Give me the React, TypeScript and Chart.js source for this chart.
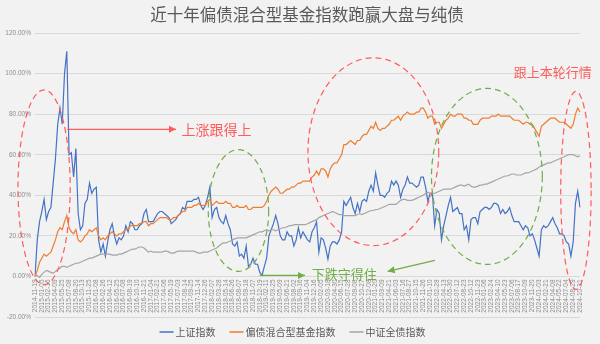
import React, { useEffect, useRef } from 'react';
import { Chart, registerables } from 'chart.js';

Chart.register(...registerables);

const FONT = "'Noto Sans CJK SC', 'Noto Sans', sans-serif";

const titleText = '近十年偏债混合型基金指数跑赢大盘与纯债';
const seriesNames = ['上证指数', '偏债混合型基金指数', '中证全债指数'];
const seriesColors = ['#4472C4', '#ED7D31', '#A5A5A5'];

const tickLabels = [
  '2014-11-19', '2015-01-05', '2015-02-16', '2015-04-09', '2015-05-25', '2015-07-08', '2015-08-20', '2015-10-13', '2015-11-25',
  '2016-01-08', '2016-02-26', '2016-04-12', '2016-05-25', '2016-07-08', '2016-08-19', '2016-10-10', '2016-11-21',
  '2017-01-04', '2017-02-21', '2017-04-06', '2017-05-19', '2017-07-03', '2017-08-14', '2017-09-25', '2017-11-14', '2017-12-26',
  '2018-02-07', '2018-03-28', '2018-05-14', '2018-06-26', '2018-08-07', '2018-09-18', '2018-11-07', '2018-12-19',
  '2019-02-11', '2019-03-25', '2019-05-09', '2019-06-21', '2019-08-02', '2019-09-16', '2019-11-04', '2019-12-16',
  '2020-02-05', '2020-03-18', '2020-04-30', '2020-06-15', '2020-07-28', '2020-09-08', '2020-10-27', '2020-12-08',
  '2021-01-20', '2021-03-09', '2021-04-21', '2021-06-03', '2021-07-16', '2021-08-27', '2021-10-15', '2021-11-26',
  '2022-01-10', '2022-02-28', '2022-04-13', '2022-05-30', '2022-07-12', '2022-08-23', '2022-10-12', '2022-11-23',
  '2023-01-06', '2023-02-24', '2023-04-10', '2023-05-23', '2023-07-06', '2023-08-17', '2023-10-09', '2023-11-20',
  '2024-01-03', '2024-02-21', '2024-04-08', '2024-05-22', '2024-07-04', '2024-08-29', '2024-10-31',
];

// 上证指数 (cumulative %, ~half-month points)
const shIndex = [
  0, 18, 27,
  32, 38, 28, 32, 34, 46, 58, 75, 83, 75, 100, 111, 60, 61, 49, 63, 31, 23, 25, 36, 38, 46, 41, 43,
  44, 18, 12, 16, 10, 17, 23, 26, 20, 16, 19, 18, 20, 25, 22, 27, 26, 23, 23, 25, 26, 31, 33, 27,
  27, 27, 29, 31, 32, 32, 31, 30, 29, 26, 27, 28, 30, 31, 34, 33, 37, 37, 37, 38, 38, 39, 35, 33,
  35, 39, 44, 29, 33, 34, 29, 27, 26, 30, 26, 23, 16, 15, 17, 10, 11, 9, 15, 5, 6, 9, 6, 6,
  2, 0.5, 5, 9, 20, 23, 26, 30, 26, 20, 18, 18, 22, 20, 20, 15, 18, 24, 19, 22, 20, 18, 17, 22,
  24, 27, 12, 19, 18, 14, 8.5, 15, 17, 17, 16, 18, 22, 37, 35, 37, 39, 34, 31, 36, 32, 37, 38, 37,
  42, 45, 42, 51, 45, 40, 40, 39, 41, 42, 47, 45, 47, 45, 39, 43, 45, 49, 46, 46, 45, 44, 45, 49,
  49, 44, 37, 41, 41, 25, 33, 31, 18, 25, 30, 35, 39, 32, 33, 34, 31, 31, 23, 25, 18, 28, 29, 29,
  26, 32, 33, 34, 34, 33, 34, 36, 36, 35, 31, 33, 31, 32, 34, 30, 27, 27, 27, 25, 23, 25, 24, 20,
  21, 18, 14, 10, 23, 25, 24, 25, 27, 29, 26, 24, 21, 21, 20, 17, 16, 10, 17, 36, 42, 34,
];

// 偏债混合型基金指数
const hybridIndex = [
  0, 3, 7,
  9, 11, 10, 11, 12, 15, 18, 22, 24, 23, 27, 30, 24, 22, 21, 23, 18, 17, 18, 20, 21, 23, 22, 23,
  24, 20, 18, 19, 18, 20, 21, 22, 21, 20, 21, 21, 22, 23, 23, 25, 25, 25, 25, 26, 26, 27, 27, 25,
  26, 26, 27, 28, 29, 29, 29, 29, 28, 28, 29, 29, 30, 31, 32, 32, 34, 34, 34, 35, 35, 36, 35, 35,
  35, 37, 38, 35, 36, 37, 36, 36, 36, 37, 36, 36, 34, 34, 35, 34, 34, 34, 35, 33, 33, 34, 34, 34,
  34, 34, 35, 37, 40, 42, 43, 44, 43, 41, 41, 42, 43, 43, 44, 44, 45, 46, 46, 47, 47, 47, 47, 49,
  50, 52, 50, 53, 53, 52, 49, 53, 55, 56, 56, 58, 60, 65, 65, 66, 67, 66, 65, 67, 67, 69, 70, 70,
  72, 74, 73, 76, 73, 72, 73, 73, 74, 75, 77, 77, 78, 79, 77, 79, 80, 81, 80, 80, 80, 81, 81, 83,
  83, 81, 78, 79, 79, 75, 76, 76, 73, 75, 77, 78, 80, 79, 79, 80, 80, 80, 78, 78, 77, 77, 75, 75,
  75, 77, 78, 78, 78, 78, 79, 79, 79, 80, 79, 79, 79, 79, 79, 78, 77, 77, 77, 76, 75, 76, 76, 75,
  75, 73, 71, 69, 74, 75, 76, 77, 78, 78, 78, 77, 76, 76, 76, 75, 74, 73, 75, 80, 83, 81,
];

// 中证全债指数
const bondIndex = [
  0, 0.5, -0.5,
  1, 2, 3, 2.5, 2, 1.5, 2.5, 3.5, 4, 5, 5, 4.5, 5, 5.5, 6, 6.5, 6.5, 7, 7.5, 8, 8.5, 9, 9, 9.5,
  10, 10.5, 11, 11, 11, 11, 11, 10.5, 10.5, 10.5, 11, 11, 11.5, 12, 12.5, 13, 13.5, 13.5, 14, 14.5, 14.5, 14, 13, 12,
  12.5, 12, 12, 12, 12, 12, 12.5, 12.5, 12, 11.5, 11.5, 12, 12.5, 12.5, 12.5, 12.5, 12.5, 12.5, 12.5, 12.5, 12, 11.5, 11.5, 12,
  12, 12, 12.5, 13, 13.5, 14, 15, 16, 16.5, 16.5, 17, 17.5, 18, 18.5, 19, 19, 19, 19, 19, 19.5, 20, 20.5, 21, 21.5,
  22, 22, 22.5, 23, 22.5, 23, 23, 22.5, 23, 23.5, 24, 24, 24.5, 25, 25, 25.5, 25.5, 25.5, 25.5, 25.5, 25.5, 26, 26.5, 27,
  27.5, 28, 29, 29.5, 30, 30.5, 31, 31.5, 32, 31.5, 31, 30.5, 30.5, 30, 30, 30, 30, 30, 30, 30.5, 31, 30.5, 31, 31.5,
  32, 32.5, 32.5, 33, 33, 33.5, 34, 34.5, 35, 35.5, 35.5, 35.5, 35.5, 36.5, 37.5, 38, 38, 37.5, 37.5, 37.5, 38, 38.5, 39, 39.5,
  40, 41, 41.5, 41, 41, 41, 41.5, 42, 42.5, 43, 43, 43, 43, 43.5, 44, 44.5, 45, 45, 44.5, 45, 45.5, 44.5, 44, 44,
  44.5, 45, 45, 45.5, 45.5, 46, 46.5, 47, 47.5, 48, 48.5, 49, 49.5, 49.5, 50, 50.5, 50.5, 50, 50, 50, 50.5, 51, 51, 51.5,
  52, 52.5, 53, 54, 54.5, 55, 55.5, 56, 56, 56.5, 57, 57.5, 58, 58.5, 59, 59.5, 60, 60, 60, 59.5, 59, 59.5,
];

const POINTS_PER_TICK = 3;

// Annotations in data units (x = point index, y = %)
const RED = '#FF5B5B';
const GREEN = '#70AD47';
const ellipseNotes = [
  { cx: 4, cy: 44, rx: 11.5, ry: 48, color: RED },
  { cx: 149, cy: 61.5, rx: 28.8, ry: 46.3, color: RED },
  { cx: 89.6, cy: 32.5, rx: 13.3, ry: 30, color: GREEN },
  { cx: 199, cy: 49.3, rx: 24.4, ry: 43.4, color: GREEN },
  { cx: 238.2, cy: 42.4, rx: 6.7, ry: 48.8, color: RED },
];
const textNotes = [
  { text: '上涨跟得上', x: 79.9, y: 72.5, color: RED, size: 14 },
  { text: '跟上本轮行情', x: 228, y: 100.6, color: RED, size: 13 },
  { text: '下跌守得住', x: 136.2, y: 1, color: GREEN, size: 13 },
];
const arrowNotes = [
  { x1: 14.2, y1: 72.5, x2: 62.1, y2: 72.5, color: RED },
  { x1: 98.9, y1: 0.5, x2: 118.9, y2: 0.5, color: GREEN },
  { x1: 176.1, y1: 7.9, x2: 155.3, y2: 2.5, color: GREEN },
];

const decorPlugin = {
  id: 'decor',
  beforeDraw(chart: any) {
    const { ctx, width, height } = chart;
    ctx.save();
    ctx.fillStyle = '#F2F2F2';
    ctx.fillRect(0, 0, width, height);
    ctx.restore();
  },
  afterDraw(chart: any) {
    const { ctx } = chart;
    const xs = chart.scales.x;
    const ys = chart.scales.y;
    const px = (v: number) => xs.getPixelForValue(v);
    const py = (v: number) => ys.getPixelForValue(v);
    const pxIdx = px(1) - px(0);
    const pxPct = py(0) - py(1);
    ctx.save();

    // title
    ctx.fillStyle = '#595959';
    ctx.font = `16.5px ${FONT}`;
    ctx.textAlign = 'center';
    ctx.textBaseline = 'middle';
    ctx.fillText(titleText, 307, 15);

    // ellipses
    ellipseNotes.forEach((e) => {
      ctx.beginPath();
      ctx.setLineDash([6, 4]);
      ctx.lineWidth = 1.2;
      ctx.strokeStyle = e.color;
      ctx.ellipse(px(e.cx), py(e.cy), e.rx * pxIdx, e.ry * pxPct, 0, 0, Math.PI * 2);
      ctx.stroke();
    });
    ctx.setLineDash([]);

    // arrows
    arrowNotes.forEach((a) => {
      const x1 = px(a.x1), y1 = py(a.y1), x2 = px(a.x2), y2 = py(a.y2);
      ctx.strokeStyle = a.color;
      ctx.fillStyle = a.color;
      ctx.lineWidth = 1.2;
      ctx.beginPath();
      ctx.moveTo(x1, y1);
      ctx.lineTo(x2, y2);
      ctx.stroke();
      const ang = Math.atan2(y2 - y1, x2 - x1);
      const L = 7, W = 3.5;
      ctx.beginPath();
      ctx.moveTo(x2, y2);
      ctx.lineTo(x2 - L * Math.cos(ang) + W * Math.sin(ang), y2 - L * Math.sin(ang) - W * Math.cos(ang));
      ctx.lineTo(x2 - L * Math.cos(ang) - W * Math.sin(ang), y2 - L * Math.sin(ang) + W * Math.cos(ang));
      ctx.closePath();
      ctx.fill();
    });

    // texts
    textNotes.forEach((t) => {
      ctx.fillStyle = t.color;
      ctx.font = `${t.size}px ${FONT}`;
      ctx.textAlign = 'center';
      ctx.textBaseline = 'middle';
      ctx.fillText(t.text, px(t.x), py(t.y));
    });

    // legend
    ctx.font = `10px ${FONT}`;
    ctx.textBaseline = 'middle';
    ctx.textAlign = 'left';
    const sample = 14, gapIn = 2, gapOut = 14;
    const widths = seriesNames.map((n) => ctx.measureText(n).width);
    const total = widths.reduce((s, w) => s + sample + gapIn + w, 0) + gapOut * (seriesNames.length - 1);
    let x = 292.5 - total / 2;
    const ly = 332;
    seriesNames.forEach((n, i) => {
      ctx.strokeStyle = seriesColors[i];
      ctx.lineWidth = 1.5;
      ctx.beginPath();
      ctx.moveTo(x, ly);
      ctx.lineTo(x + sample, ly);
      ctx.stroke();
      x += sample + gapIn;
      ctx.fillStyle = '#595959';
      ctx.fillText(n, x, ly);
      x += widths[i] + gapOut;
    });

    ctx.restore();
  },
};

export default function App() {
  const ref = useRef<HTMLCanvasElement | null>(null);

  useEffect(() => {
    document.body.style.margin = '0';
    const canvas = ref.current;
    if (!canvas) return;
    const dataLabels = shIndex.map((_, i) => (i % POINTS_PER_TICK === 0 ? tickLabels[i / POINTS_PER_TICK] || '' : ''));
    const series = [shIndex, hybridIndex, bondIndex];
    const chart = new Chart(canvas, {
      type: 'line',
      data: {
        labels: dataLabels,
        datasets: series.map((d, i) => ({
          label: seriesNames[i],
          data: d,
          borderColor: seriesColors[i],
          backgroundColor: seriesColors[i],
          borderWidth: 1.2,
          pointRadius: 0,
          tension: 0,
          order: 2 - i,
        })),
      },
      options: {
        responsive: false,
        animation: false,
        devicePixelRatio: 1,
        layout: { padding: { top: 33, bottom: 27, left: 0, right: 20 } },
        plugins: {
          legend: { display: false },
          title: { display: false },
          tooltip: { enabled: false },
        },
        scales: {
          x: {
            type: 'category',
            position: { y: 0 } as any,
            grid: { display: false, drawTicks: false },
            border: { display: false },
            ticks: {
              autoSkip: false,
              minRotation: 90,
              maxRotation: 90,
              padding: 3,
              color: '#8C8C8C',
              font: { size: 6.5, family: "'Liberation Sans', sans-serif" },
            },
            afterFit: (s: any) => {
              s.height = 0;
            },
          },
          y: {
            min: -20,
            max: 120,
            grid: { color: '#D9D9D9', lineWidth: 1, drawTicks: false },
            border: { display: false },
            ticks: {
              stepSize: 20,
              padding: 4,
              color: '#8C8C8C',
              font: { size: 6.5, family: "'Liberation Sans', sans-serif" },
              callback: (v: any) => `${Number(v).toFixed(2)}%`,
            },
            afterFit: (s: any) => {
              s.width = 35;
            },
          },
        },
      },
      plugins: [decorPlugin],
    });
    return () => chart.destroy();
  }, []);

  return <canvas ref={ref} width={600} height={344} style={{ display: 'block' }} />;
}
